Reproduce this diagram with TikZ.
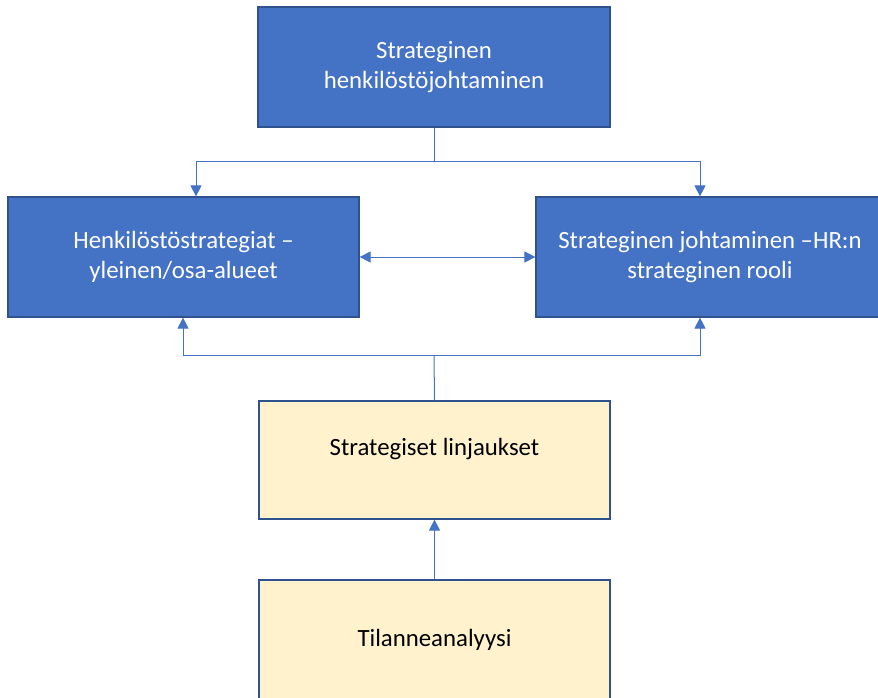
\documentclass[tikz,border=0pt]{standalone}
\usepackage{fontspec}
\setmainfont{Carlito}
\usetikzlibrary{arrows.meta}
\definecolor{boxblue}{HTML}{4472C4}
\definecolor{edgeblue}{HTML}{2F528F}
\definecolor{paleyellow}{HTML}{FFF2CC}
\definecolor{lineblue}{HTML}{4472C4}
\tikzset{
  bluebox/.style={draw=edgeblue, line width=1.2pt, fill=boxblue, text=white, align=center, inner sep=0pt},
  yellowbox/.style={draw=edgeblue, line width=1.2pt, fill=paleyellow, text=black, align=center, inner sep=0pt},
  conn/.style={draw=lineblue, line width=1pt},
  tip/.style={-{Triangle[width=11pt,length=11pt]}},
  lbl/.style={font=\fontsize{24.8}{30}\selectfont, align=center, inner sep=0pt}
}
\begin{document}
\begin{tikzpicture}[x=1pt,y=-1pt]
\useasboundingbox (0,0) rectangle (878,698);
\clip (0,0) rectangle (878,698);
\fill[white] (0,0) rectangle (878,698);
% boxes
\node[bluebox, minimum width=352pt, minimum height=120pt] (top) at (434,67) {};
\node[bluebox, minimum width=351pt, minimum height=120pt] (left) at (183.5,257) {};
\node[bluebox, minimum width=364pt, minimum height=120pt] (right) at (718,257) {};
\node[yellowbox, minimum width=351pt, minimum height=118pt] (strat) at (434.5,460) {};
\node[yellowbox, minimum width=351pt, minimum height=120pt] (tila) at (434.5,640) {};
% labels
\node[lbl, text=white] (ttop) at (top.center) {Strateginen\\henkilöstöjohtaminen};
\node[lbl, text=white] (tleft) at (left.center) {Henkilöstöstrategiat –\\yleinen/osa-alueet};
\node[lbl, text=white] (tright) at (710,257) {Strateginen johtaminen –HR:n\\strateginen rooli};
\node[lbl, text=black] (tstrat) at (434.5,449) {Strategiset linjaukset};
\node[lbl, text=black] (ttila) at (tila.center) {Tilanneanalyysi};
% connector coordinates
\coordinate (j1) at (434,161);
\coordinate (j1l) at (196,161);
\coordinate (j1r) at (700,161);
\coordinate (j2) at (434,355);
\coordinate (j2l) at (183,355);
\coordinate (j2r) at (700,355);
% connectors
\draw[conn] (top.south) -- (j1);
\draw[conn, tip] (j1) -- (j1l) -- (j1l |- left.north);
\draw[conn, tip] (j1) -- (j1r) -- (j1r |- right.north);
\draw[conn, {Triangle[width=11pt,length=11pt]}-{Triangle[width=11pt,length=11pt]}] (left.east) -- (right.west);
\draw[conn] (strat.north) -- (j2);
\draw[conn, tip] (j2) -- (j2l) -- (j2l |- left.south);
\draw[conn, tip] (j2) -- (j2r) -- (j2r |- right.south);
\draw[conn, tip] (tila.north) -- (strat.south);
\end{tikzpicture}
\end{document}
